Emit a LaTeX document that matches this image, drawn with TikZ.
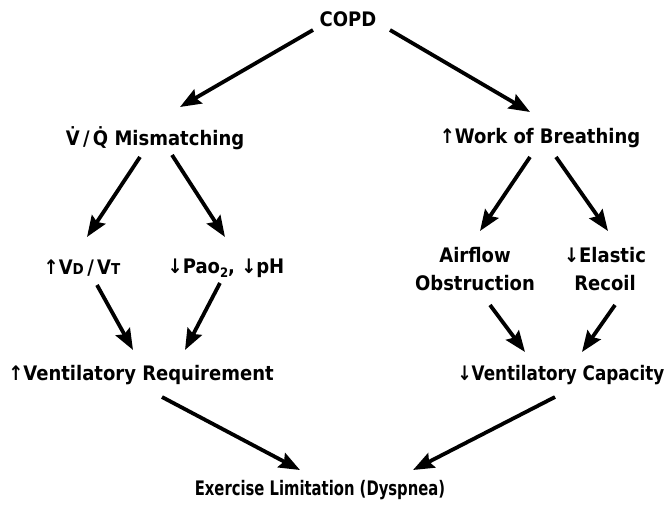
\documentclass[tikz,border=0pt]{standalone}
\usepackage{fontspec}
\setmainfont{DejaVu Sans}
\newfontfamily\lblfont{DejaVu Sans Bold}[FakeStretch=0.9]
\newfontfamily\exfont{DejaVu Sans Bold}[FakeStretch=0.74]
\newfontfamily\capfont{DejaVu Sans Bold}[FakeStretch=0.84]
\usetikzlibrary{arrows.meta,calc}
\newcommand{\sub}[1]{\raisebox{-4pt}{\fontsize{13}{13}\selectfont #1}}
\newcommand{\sml}[1]{{\fontsize{15}{15}\selectfont #1}}
\begin{document}
\begin{tikzpicture}[x=1pt,y=-1pt,
  lbl/.style={inner sep=0pt,outer sep=0pt,font=\fontsize{20}{28}\lblfont,align=center},
  arr/.style={line width=3.8pt,-{Stealth[length=21pt,width=16pt,inset=3pt]}}]
\useasboundingbox (0,0) rectangle (668,505);
\node[lbl] (copd) at (348,19) {COPD};
\node[lbl] (vq) at (155,138) {\.V\,/\,\.Q Mismatching};
\node[lbl] (work) at (540,138) {↑Work of Breathing};
\node[lbl] (vd) at (82,268) {↑V\sml{D}\,/\,V\sml{T}};
\node[lbl] (pa) at (226,268) {↓Pao\sub{2}, ↓pH};
\node[lbl] (air) at (475,269) {Airflow\\Obstruction};
\node[lbl] (el) at (605,269) {↓Elastic\\Recoil};
\node[lbl] (req) at (141,375) {↑Ventilatory Requirement};
\node[lbl,font=\fontsize{20}{28}\capfont] (cap) at (561,375) {↓Ventilatory Capacity};
\node[lbl,font=\fontsize{20}{28}\exfont] (ex) at (320,490) {Exercise Limitation (Dyspnea)};
\draw[arr] ($(copd)+(-35,11)$) -- ($(vq)+(25,-31)$);
\draw[arr] ($(copd)+(42,11)$) -- ($(work)+(-10,-26)$);
\draw[arr] ($(vq)+(-15,19)$) -- ($(vd)+(5,-31)$);
\draw[arr] ($(vq)+(17,17)$) -- ($(pa)+(-1,-31)$);
\draw[arr] ($(work)+(-10,19)$) -- ($(air)+(5,-38)$);
\draw[arr] ($(work)+(16,19)$) -- ($(el)+(3,-38)$);
\draw[arr] ($(vd)+(15,17)$) -- ($(req)+(-8,-25)$);
\draw[arr] ($(pa)+(-6,15)$) -- ($(req)+(44,-25)$);
\draw[arr] ($(air)+(15,36)$) -- ($(cap)+(-36,-23)$);
\draw[arr] ($(el)+(10,36)$) -- ($(cap)+(21,-23)$);
\draw[arr] ($(req)+(21,22)$) -- ($(ex)+(-20,-20)$);
\draw[arr] ($(cap)+(-6,22)$) -- ($(ex)+(93,-20)$);
\end{tikzpicture}
\end{document}
